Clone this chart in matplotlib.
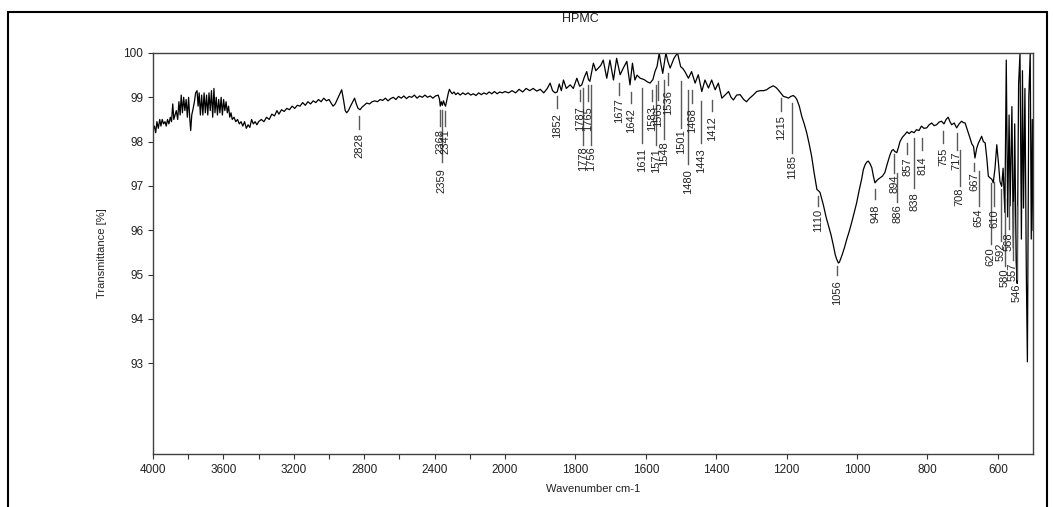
import numpy as np
import matplotlib
matplotlib.use("Agg")
import matplotlib.pyplot as plt
from matplotlib.patches import Rectangle

plt.rcParams['font.family'] = ['Liberation Sans', 'DejaVu Sans']

# ---------------- data ----------------
wavenumber = [
    4000, 3992, 3985, 3978, 3970, 3962, 3955, 3948, 3940, 3932, 3925, 3918, 3910, 3902, 3895, 3888,
    3882, 3875, 3868, 3860, 3853, 3846, 3840, 3833, 3826, 3819, 3812, 3805, 3798, 3791, 3786, 3780,
    3772, 3765, 3758, 3750, 3744, 3738, 3731, 3724, 3717, 3710, 3703, 3696, 3689, 3682, 3675, 3668,
    3661, 3654, 3648, 3641, 3634, 3627, 3620, 3613, 3606, 3599, 3592, 3585, 3578, 3571, 3564, 3557,
    3550, 3540, 3530, 3520, 3510, 3500, 3490, 3480, 3470, 3460, 3450, 3440, 3430, 3420, 3410,
    3400, 3385, 3370, 3355, 3340, 3325, 3310, 3296, 3285, 3270, 3255, 3240, 3225, 3210, 3195, 3180,
    3165, 3150, 3135, 3120, 3105, 3090, 3075, 3060, 3045, 3030, 3015, 3000, 2990, 2977, 2965, 2950,
    2938, 2928, 2918, 2908, 2900, 2890, 2878, 2865, 2855, 2845, 2835, 2824, 2812, 2800, 2786, 2770,
    2755, 2740, 2725, 2710, 2695, 2680, 2665, 2650, 2635, 2620, 2605, 2590, 2575, 2560, 2545, 2530,
    2515, 2500, 2485, 2470, 2455, 2440, 2425, 2410, 2395, 2380, 2372, 2368, 2362, 2356, 2350, 2344,
    2338, 2330, 2322, 2316, 2308, 2300, 2290, 2280, 2268, 2255, 2240, 2225, 2210, 2195, 2180, 2165,
    2150, 2135, 2120, 2105, 2090, 2075, 2060, 2045, 2030, 2015, 2000,
    1990, 1980, 1970, 1960, 1950, 1940, 1930, 1920, 1910, 1900, 1890, 1880, 1872, 1865, 1858, 1852,
    1846, 1840, 1834, 1826, 1815, 1806, 1796, 1788, 1782, 1775, 1768, 1763, 1759, 1749, 1742, 1735,
    1728, 1721, 1711, 1702, 1692, 1683, 1673, 1664, 1654, 1645, 1638, 1631, 1625, 1616, 1605, 1596,
    1588, 1580, 1574, 1568, 1562, 1557, 1552, 1547, 1543, 1537, 1531, 1525, 1520, 1510, 1501, 1495,
    1489, 1479, 1470, 1460, 1451, 1441, 1432, 1422, 1413, 1403, 1394, 1384, 1375, 1365, 1358, 1351,
    1342, 1332, 1322, 1314, 1305, 1295, 1285, 1275, 1265, 1257, 1248, 1238, 1230, 1224, 1215, 1209,
    1200, 1195, 1188, 1181, 1175, 1171, 1164, 1157, 1150, 1143, 1136, 1129, 1122, 1114, 1108, 1105,
    1095, 1088, 1081, 1074, 1067, 1062, 1058, 1053, 1050, 1043, 1036, 1029, 1022, 1015, 1008, 1001,
    994, 987, 982, 977, 972, 968, 963, 958, 953, 949, 944, 940, 935, 928, 921, 914,
    906, 901, 897, 893, 887, 882, 878, 871, 864, 858, 852, 845, 838, 831, 824, 817,
    810, 802, 795, 788, 781, 774, 767, 760, 753, 747, 741, 736, 731, 724, 717, 710,
    703, 698, 693, 686, 679, 674, 669, 665, 660, 655, 650, 646, 641, 636, 631, 627,
    622, 617, 613, 608, 603, 598, 594, 589, 585, 580, 576, 572, 568, 565, 560, 556,
    552, 548, 545, 541, 537, 533, 530, 527, 523, 519, 516, 512, 508, 505, 502, 500,
]
transmittance = [
    98.25, 98.35, 98.20, 98.45, 98.30, 98.50, 98.35, 98.50, 98.40, 98.45, 98.35, 98.50, 98.40, 98.55, 98.45, 98.85,
    98.50, 98.60, 98.70, 98.50, 98.90, 98.60, 99.05, 98.65, 99.00, 98.70, 98.95, 98.55, 99.00, 98.50, 98.25, 98.60,
    98.75, 98.90, 99.10, 99.15, 98.80, 99.10, 98.60, 99.05, 98.60, 99.10, 98.65, 99.05, 98.60, 99.10, 98.70, 99.15,
    98.55, 99.20, 98.65, 99.00, 98.60, 98.95, 98.65, 99.00, 98.60, 98.95, 98.70, 98.90, 98.65, 98.80, 98.55, 98.65,
    98.50, 98.55, 98.45, 98.50, 98.40, 98.45, 98.35, 98.45, 98.30, 98.38, 98.32, 98.50, 98.40, 98.45, 98.38,
    98.45, 98.50, 98.45, 98.55, 98.50, 98.62, 98.58, 98.70, 98.62, 98.72, 98.68, 98.75, 98.72, 98.80, 98.75, 98.82,
    98.80, 98.88, 98.82, 98.90, 98.85, 98.92, 98.88, 98.95, 98.90, 98.98, 98.92, 98.95, 98.88, 98.80, 98.85, 98.98,
    99.08, 99.17, 98.95, 98.70, 98.65, 98.70, 98.80, 98.90, 98.98, 98.85, 98.75, 98.72, 98.78, 98.82, 98.87, 98.85,
    98.90, 98.92, 98.90, 98.95, 98.93, 98.98, 98.92, 98.97, 99.00, 98.95, 99.02, 98.98, 99.03, 98.97, 99.02, 99.00,
    99.05, 98.98, 99.03, 99.00, 99.05, 99.00, 99.03, 98.98, 99.03, 99.05, 98.95, 98.80, 98.90, 98.82, 98.92, 98.85,
    98.80, 98.95, 99.10, 99.18, 99.12, 99.08, 99.12, 99.06, 99.10, 99.05, 99.10, 99.06, 99.10, 99.05, 99.08, 99.04,
    99.10, 99.06, 99.10, 99.07, 99.12, 99.08, 99.13, 99.08, 99.12, 99.10, 99.13,
    99.10, 99.15, 99.10, 99.18, 99.12, 99.20, 99.15, 99.20, 99.14, 99.18, 99.10, 99.20, 99.32, 99.15, 99.10, 99.12,
    99.30, 99.15, 99.39, 99.20, 99.28, 99.20, 99.43, 99.25, 99.28, 99.45, 99.58, 99.40, 99.36, 99.77, 99.60, 99.66,
    99.72, 99.84, 99.43, 99.84, 99.39, 99.88, 99.51, 99.66, 99.81, 99.28, 99.77, 99.39, 99.50, 99.43, 99.40, 99.35,
    99.32, 99.40, 99.58, 99.70, 100.0, 99.75, 99.54, 99.80, 100.0, 99.80, 99.66, 99.78, 99.88, 100.0, 99.69, 99.65,
    99.58, 99.43, 99.58, 99.32, 99.51, 99.13, 99.39, 99.21, 99.39, 99.17, 99.32, 98.98, 99.05, 99.13, 99.00, 98.94,
    99.05, 99.06, 98.95, 98.90, 98.98, 99.05, 99.13, 99.15, 99.15, 99.17, 99.22, 99.26, 99.22, 99.17, 99.08, 99.02,
    99.00, 98.98, 99.02, 99.04, 99.00, 98.95, 98.80, 98.57, 98.40, 98.20, 97.95, 97.67, 97.30, 96.92, 96.88, 96.85,
    96.55, 96.30, 96.10, 95.90, 95.65, 95.45, 95.35, 95.26, 95.28, 95.43, 95.60, 95.80, 95.98, 96.18, 96.40, 96.62,
    96.90, 97.15, 97.37, 97.48, 97.54, 97.56, 97.50, 97.41, 97.20, 97.07, 97.12, 97.15, 97.18, 97.22, 97.30, 97.50,
    97.71, 97.80, 97.82, 97.78, 97.75, 97.88, 98.00, 98.10, 98.16, 98.22, 98.18, 98.23, 98.20, 98.27, 98.25, 98.35,
    98.30, 98.31, 98.38, 98.42, 98.36, 98.38, 98.44, 98.46, 98.40, 98.50, 98.55, 98.45, 98.38, 98.42, 98.31, 98.40,
    98.46, 98.43, 98.42, 98.25, 98.08, 97.95, 97.89, 97.63, 97.85, 97.97, 98.05, 98.12, 98.00, 97.97, 97.60, 97.22,
    97.18, 97.15, 97.07, 97.40, 97.93, 97.50, 97.10, 96.99, 97.40, 96.40, 99.84, 96.30, 98.60, 96.55, 98.79, 95.60,
    98.40, 95.30, 94.80, 99.30, 100.0, 95.80, 99.60, 96.50, 99.20, 95.00, 93.03, 99.00, 100.0, 95.80, 98.50, 96.00,
]

# peak labels with leader top, leader bottom and text top (in % transmittance)
peak_labels = ["2828", "2368", "2359", "2341", "1852", "1787", "1778", "1765", "1756", "1677",
               "1642", "1611", "1583", "1571", "1565", "1548", "1536", "1501", "1480", "1468",
               "1443", "1412", "1215", "1185", "1110", "1056", "948", "894", "886", "857",
               "838", "814", "755", "717", "708", "667", "654", "620", "610", "592",
               "580", "568", "557", "546"]
leader_top = [98.57, 98.72, 98.72, 98.68, 99.02, 99.17, 99.21, 99.28, 99.28, 99.32,
              99.13, 99.21, 99.17, 99.28, 99.36, 99.39, 99.54, 99.36, 99.17, 99.17,
              98.91, 98.94, 98.98, 98.87, 96.77, 95.20, 96.92, 97.71, 97.30, 97.97,
              98.09, 98.09, 98.23, 98.20, 97.82, 97.52, 97.34, 97.07, 97.08, 96.92,
              96.70, 96.77, 96.63, 96.55]
leader_bot = [98.29, 98.35, 97.53, 98.35, 98.76, 98.91, 97.93, 98.91, 97.93, 99.06,
              98.87, 97.97, 98.91, 97.93, 98.95, 98.05, 99.28, 98.31, 97.49, 98.87,
              97.97, 98.68, 98.68, 97.75, 96.55, 94.98, 96.70, 97.30, 96.63, 97.71,
              96.96, 97.82, 97.97, 97.82, 97.00, 97.34, 96.55, 95.69, 96.55, 95.76,
              95.20, 96.03, 95.32, 94.91]
text_top = [98.20, 98.29, 97.41, 98.29, 98.65, 98.79, 97.90, 98.79, 97.90, 98.98,
            98.76, 97.86, 98.79, 97.86, 98.88, 98.01, 99.17, 98.27, 97.37, 98.76,
            97.86, 98.57, 98.59, 97.69, 96.48, 94.87, 96.59, 97.26, 96.59, 97.64,
            96.85, 97.67, 97.86, 97.78, 96.96, 97.30, 96.48, 95.62, 96.48, 95.73,
            95.13, 95.95, 95.28, 94.79]

x_ticks = [4000, 3800, 3600, 3400, 3200, 3000, 2800, 2600, 2400, 2200, 2000,
           1800, 1600, 1400, 1200, 1000, 800, 600]
x_ticklabels = ["4000", "", "3600", "", "3200", "", "2800", "", "2400", "", "2000",
                "1800", "1600", "1400", "1200", "1000", "800", "600"]
y_ticks = [93, 94, 95, 96, 97, 98, 99, 100]


# wavenumber axis: scale doubled below 2000 cm-1
def fwd(x):
    x = np.asarray(x, dtype=float)
    return np.where(x >= 2000, x, 2 * x - 2000)


def inv(p):
    p = np.asarray(p, dtype=float)
    return np.where(p >= 2000, p, (p + 2000) / 2)


fig = plt.figure(figsize=(10.54, 5.07), dpi=100)
ax = fig.add_axes([0.1452, 0.1045, 0.8349, 0.791])
ax.set_xscale('function', functions=(fwd, inv))

ax.plot(wavenumber, transmittance, color='black', lw=0.9)

for lab, t0, t1, tt in zip(peak_labels, leader_top, leader_bot, text_top):
    w = float(lab)
    ax.plot([w, w], [t0, t1], color='#5a5a5a', lw=1.0)
    ax.text(w, tt, lab, rotation=90, ha='center', va='top', fontsize=8, color='#222222')

ax.set_xlim(4000, 500)
ax.set_ylim(90.95, 100)
ax.set_xticks(x_ticks)
ax.set_xticklabels(x_ticklabels)
ax.set_yticks(y_ticks)
ax.set_yticklabels([str(v) for v in y_ticks])
ax.tick_params(axis='both', direction='out', length=3.5, width=0.8, labelsize=8.5,
               colors='#333333', labelcolor='#222222')
for s in ax.spines.values():
    s.set_color('#404040')
    s.set_linewidth(1.0)

ax.set_xlabel('Wavenumber cm-1', fontsize=8, labelpad=6, color='#222222')
ax.set_ylabel('Transmittance [%]', fontsize=8, labelpad=12, color='#222222')
fig.text(580 / 1054, 1 - 19 / 507, 'HPMC', ha='center', va='center', fontsize=9, color='#222222')

fig.add_artist(Rectangle((8 / 1054, -0.1), (1047 - 8) / 1054, 1.1 - 12 / 507,
                         transform=fig.transFigure, fill=False, edgecolor='black', lw=1.5))

fig.savefig('out.png', dpi=100)
